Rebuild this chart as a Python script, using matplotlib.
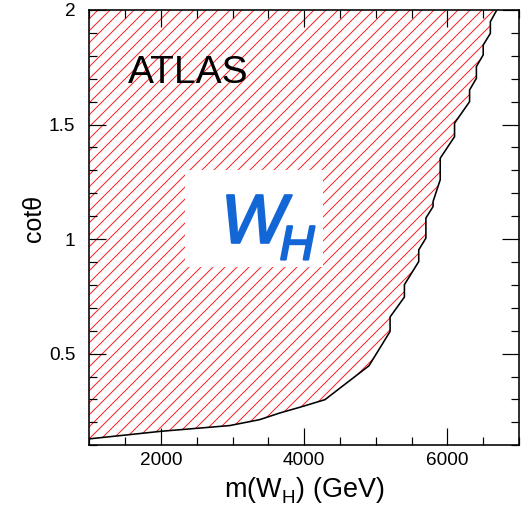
import matplotlib
matplotlib.use("Agg")
import matplotlib.pyplot as plt
import matplotlib.patheffects as pe
from matplotlib.ticker import MultipleLocator
from matplotlib.patches import Rectangle

try:
    import matplotlib._mathtext as _mt
    _mt.FontConstantsBase.sub1 = 0.46
except Exception:
    pass

# Exclusion boundary (mass in GeV, cot theta)
mass = [1000, 2000, 2960, 3380, 3660, 3940, 4290, 4905, 5200, 5200, 5400, 5400,
        5600, 5600, 5700, 5700, 5800, 5800, 5900, 5900, 6100, 6100, 6310, 6310,
        6405, 6405, 6500, 6500, 6600, 6600, 6690]
cot = [0.128, 0.161, 0.186, 0.212, 0.241, 0.266, 0.299, 0.447, 0.597, 0.660,
       0.747, 0.801, 0.902, 0.953, 1.004, 1.092, 1.142, 1.164, 1.259, 1.353,
       1.447, 1.506, 1.600, 1.651, 1.702, 1.753, 1.804, 1.847, 1.898, 1.949, 2.0]

xlim = (1000, 7000)
ylim = (0.1, 2.0)
xticks = [2000, 4000, 6000]
xticklabels = ["2000", "4000", "6000"]
yticks = [0.5, 1.0, 1.5, 2.0]
yticklabels = ["0.5", "1", "1.5", "2"]

DPI = 72
plt.rcParams['font.family'] = ['Liberation Sans', 'DejaVu Sans']
plt.rcParams['mathtext.fontset'] = 'custom'
plt.rcParams['mathtext.rm'] = 'Liberation Sans'
plt.rcParams['mathtext.it'] = 'Liberation Sans:italic'
plt.rcParams['hatch.linewidth'] = 1.0
plt.rcParams['hatch.color'] = '#ff2020'

fig = plt.figure(figsize=(525 / DPI, 512 / DPI), dpi=DPI)
ax = fig.add_axes([0.170, 0.1303, 0.8186, 0.8502])

ax.fill_betweenx(cot, xlim[0], mass, facecolor='none', edgecolor='#ff2020',
                 hatch='//', linewidth=0, zorder=1)
ax.plot(mass, cot, color='black', lw=1.6, zorder=3)

# white box behind W_H
ax.add_patch(Rectangle((0.223, 0.410), 0.322, 0.222, transform=ax.transAxes,
                       facecolor='white', edgecolor='none', zorder=2))
blue = '#1366d6'
ax.text(0.307, 0.465, r'$W_{\!H}$', transform=ax.transAxes,
        fontsize=69, color=blue, ha='left', va='baseline', zorder=4,
        path_effects=[pe.withStroke(linewidth=2.2, foreground=blue)])

ax.text(0.090, 0.833, 'ATLAS', transform=ax.transAxes, fontsize=39,
        ha='left', va='baseline', zorder=4)

ax.set_xlim(*xlim)
ax.set_ylim(*ylim)
ax.set_xticks(xticks)
ax.set_xticklabels(xticklabels)
ax.set_yticks(yticks)
ax.set_yticklabels(yticklabels)
ax.xaxis.set_minor_locator(MultipleLocator(500))
ax.yaxis.set_minor_locator(MultipleLocator(0.1))
ax.tick_params(which='both', direction='in', top=True, right=True, width=1.2,
               colors='black')
ax.tick_params(which='major', length=17, labelsize=19)
ax.tick_params(axis='x', which='major', pad=7)
ax.tick_params(axis='y', which='major', pad=14)
ax.tick_params(which='minor', length=8)
for s in ax.spines.values():
    s.set_linewidth(1.6)

ax.set_xlabel(r'm(W$_{\mathrm{H}}$) (GeV)', fontsize=27, va='top')
ax.xaxis.set_label_coords(0.5, -0.068)
ax.set_ylabel('cotθ', fontsize=25, va='center')
ax.yaxis.set_label_coords(-0.129, 0.521)

fig.savefig('out.png', dpi=DPI)
